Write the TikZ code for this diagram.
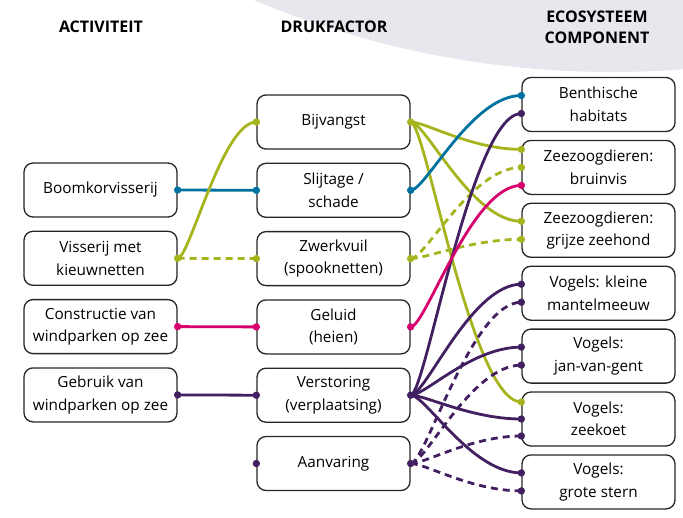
\documentclass[tikz,border=0pt]{standalone}
\usepackage{fontspec}
\setmainfont{Open Sans}
\usetikzlibrary{calc}
\definecolor{cgreen}{RGB}{166,180,30}
\definecolor{cblue}{RGB}{0,114,160}
\definecolor{cmag}{RGB}{214,0,110}
\definecolor{cpurp}{RGB}{66,31,96}
\definecolor{clav}{RGB}{233,230,238}
\tikzset{
  box/.style={draw=black!85, line width=1.3pt, rounded corners=9pt, fill=white,
    minimum width=153pt, minimum height=54pt, align=center, inner sep=2pt,
    font=\fontsize{15.3}{22.5}\selectfont},
  hdr/.style={font=\fontsize{16}{21}\selectfont\bfseries, align=center},
  conn/.style={line width=2.8pt},
  dsh/.style={dash pattern=on 7pt off 5pt},
  lc/.style={to path={.. controls +(12,0) and +(-34,0) .. (\tikztotarget)}},
  rc/.style={to path={.. controls +(15,0) and +(-50,0) .. (\tikztotarget)}}
}
\begin{document}
\begin{tikzpicture}[x=1pt,y=-1pt]
\useasboundingbox (0,0) rectangle (683,517);
\begin{scope}
\clip (0,0) rectangle (683,517);
\fill[clav] (612,-853) circle (925);
\end{scope}
% headers
\node[hdr] (h1) at (101,27) {ACTIVITEIT};
\node[hdr] (h2) at (334,27) {DRUKFACTOR};
\node[hdr] (h3) at (597,27) {ECOSYSTEEM\\COMPONENT};
% left column
\node[box] (boom) at (100.5,190) {Boomkorvisserij};
\node[box] (vis) at (100.5,258.3) {Visserij met\\kieuwnetten};
\node[box] (con) at (100.5,326.6) {Constructie van\\windparken op zee};
\node[box] (geb) at (100.5,394.9) {Gebruik van\\windparken op zee};
% middle column
\node[box] (bij) at (333.5,122) {Bijvangst};
\node[box] (sli) at (333.5,190.3) {Slijtage /\\schade};
\node[box] (zwe) at (333.5,258.6) {Zwerkvuil\\(spooknetten)};
\node[box] (gel) at (333.5,326.9) {Geluid\\(heien)};
\node[box] (ver) at (333.5,395.2) {Verstoring\\(verplaatsing)};
\node[box] (aan) at (333.5,463.5) {Aanvaring};
% right column
\node[box] (ben) at (598.5,104.5) {Benthische\\habitats};
\node[box] (bru) at (598.5,167.4) {Zeezoogdieren:\\bruinvis};
\node[box] (gri) at (598.5,230.3) {Zeezoogdieren:\\grijze zeehond};
\node[box] (kle) at (598.5,293.2) {Vogels: kleine\\mantelmeeuw};
\node[box] (jan) at (598.5,356.1) {Vogels:\\jan-van-gent};
\node[box] (zee) at (598.5,419) {Vogels:\\zeekoet};
\node[box] (gro) at (598.5,481.9) {Vogels:\\grote stern};
% ports on right boxes
\coordinate (ben1) at ($(ben.west)+(0,-9)$);
\coordinate (ben2) at ($(ben.west)+(0,9)$);
\coordinate (bru1) at ($(bru.west)+(0,-18)$);
\coordinate (bru2) at (bru.west);
\coordinate (bru3) at ($(bru.west)+(0,18)$);
\coordinate (gri1) at ($(gri.west)+(0,-9)$);
\coordinate (gri2) at ($(gri.west)+(0,9)$);
\coordinate (kle1) at ($(kle.west)+(0,-9)$);
\coordinate (kle2) at ($(kle.west)+(0,9)$);
\coordinate (jan1) at ($(jan.west)+(0,-9)$);
\coordinate (jan2) at ($(jan.west)+(0,9)$);
\coordinate (zee1) at ($(zee.west)+(0,-17)$);
\coordinate (zee2) at (zee.west);
\coordinate (zee3) at ($(zee.west)+(0,17)$);
\coordinate (gro1) at ($(gro.west)+(0,-9)$);
\coordinate (gro2) at ($(gro.west)+(0,9)$);
% left to middle
\draw[conn,cblue] (boom.east) -- (sli.west);
\draw[conn,cgreen] (vis.east) to[lc] (bij.west);
\draw[conn,cgreen,dsh] (vis.east) -- (zwe.west);
\draw[conn,cmag] (con.east) -- (gel.west);
\draw[conn,cpurp] (geb.east) -- (ver.west);
% middle to right
\draw[conn,cgreen] (bij.east) to[rc] (bru1);
\draw[conn,cgreen] (bij.east) to[rc] (gri1);
\draw[conn,cgreen] (bij.east) to[rc] (zee1);
\draw[conn,cgreen,dsh] (zwe.east) to[rc] (bru2);
\draw[conn,cgreen,dsh] (zwe.east) to[rc] (gri2);
\draw[conn,cpurp,dsh] (aan.east) to[rc] (kle2);
\draw[conn,cpurp,dsh] (aan.east) to[rc] (jan2);
\draw[conn,cpurp,dsh] (aan.east) to[rc] (zee3);
\draw[conn,cpurp,dsh] (aan.east) to[rc] (gro2);
\draw[conn,cpurp] (ver.east) to[rc] (ben2);
\draw[conn,cpurp] (ver.east) to[rc] (kle1);
\draw[conn,cpurp] (ver.east) to[rc] (jan1);
\draw[conn,cpurp] (ver.east) to[rc] (zee2);
\draw[conn,cpurp] (ver.east) to[rc] (gro1);
\draw[conn,cblue] (sli.east) to[rc] (ben1);
\draw[conn,cmag] (gel.east) to[rc] (bru3);
% dots
\foreach \p/\c in {boom.east/cblue, sli.west/cblue, sli.east/cblue, ben1/cblue,
  vis.east/cgreen, bij.west/cgreen, bij.east/cgreen, zwe.west/cgreen, zwe.east/cgreen,
  bru1/cgreen, bru2/cgreen, gri1/cgreen, gri2/cgreen, zee1/cgreen,
  con.east/cmag, gel.west/cmag, gel.east/cmag, bru3/cmag,
  geb.east/cpurp, ver.west/cpurp, ver.east/cpurp, aan.west/cpurp, aan.east/cpurp,
  ben2/cpurp, kle1/cpurp, kle2/cpurp, jan1/cpurp, jan2/cpurp, zee2/cpurp, zee3/cpurp,
  gro1/cpurp, gro2/cpurp}
  \fill[\c] (\p) circle (3.7);
\end{tikzpicture}
\end{document}
